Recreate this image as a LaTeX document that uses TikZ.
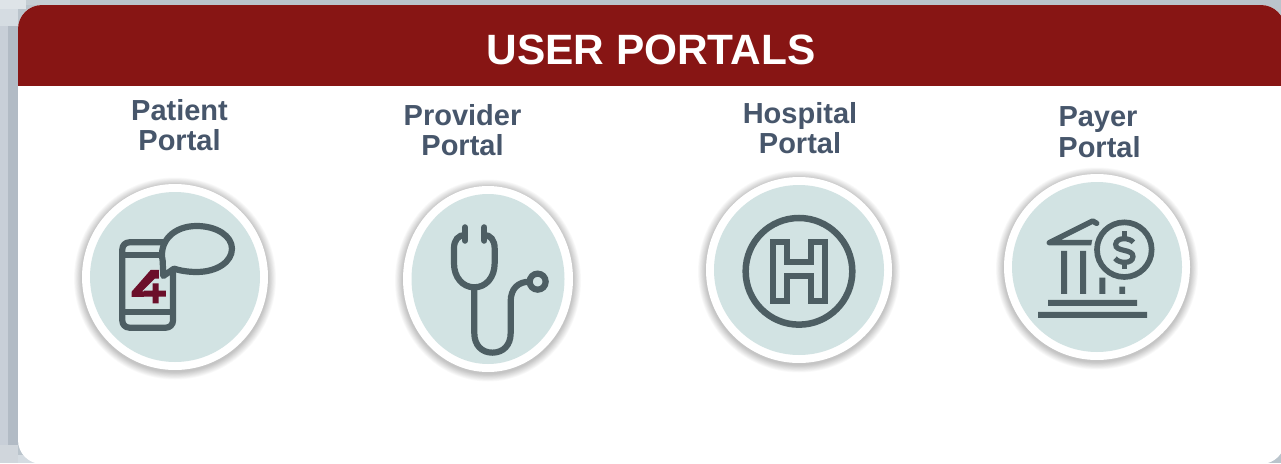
\documentclass[tikz,border=0pt]{standalone}
\usepackage{fontspec}
\setmainfont{Liberation Sans}
\definecolor{hdr}{RGB}{135,21,20}
\definecolor{ink}{RGB}{77,94,99}
\definecolor{disc}{RGB}{210,227,227}
\definecolor{lbl}{RGB}{71,86,107}
\definecolor{mar}{RGB}{107,15,42}
\definecolor{gA}{RGB}{200,207,216}
\definecolor{gB}{RGB}{178,187,197}
\definecolor{gC}{RGB}{186,196,204}
\definecolor{gD}{RGB}{222,228,232}
\definecolor{gE}{RGB}{208,214,220}
\tikzset{
  portal/.style={font=\bfseries\fontsize{29}{30.5}\selectfont,text=lbl,align=center,inner sep=0pt},
  title/.style={font=\bfseries\fontsize{42.4}{43}\selectfont,text=white,inner sep=0pt},
  icon/.style={draw=ink,line width=6.2pt},
  panelbox/.style={rounded corners=24pt},
}
% #1 centre x, #2 centre y, #3 outer rx, #4 outer ry, #5 inner rx, #6 inner ry
\newcommand{\badge}[6]{%
  \foreach \k in {10,9,...,1}{\fill[black,opacity=.022] (#1,#2+1.5) ellipse [x radius=#3+\k*0.8,y radius=#4+\k*0.8];}%
  \fill[white] (#1,#2) ellipse [x radius=#3,y radius=#4];
  \fill[disc] (#1,#2) ellipse [x radius=#5,y radius=#6];
}
\begin{document}
\begin{tikzpicture}[x=1pt,y=-1pt]
\useasboundingbox (0,0) rectangle (1281,463);
% backdrop
\fill[gC] (0,0) rectangle (1281,463);
\fill[gA] (0,0) rectangle (8,463);
\fill[gB] (8,9) rectangle (18,463);
\fill[gC!70!gD] (0,0) rectangle (70,5);
\fill[gD] (0,0) rectangle (26,9);
\fill[gD!60!gA] (0,9) rectangle (18,26);
\fill[gE] (0,445) rectangle (18,463);
\fill[gD!60!gA] (18,455) rectangle (36,463);
% panel
\fill[white,panelbox] (18,5) rectangle (1285,464);
\begin{scope}
  \clip (18,5) rectangle (1285,85.6);
  \fill[hdr,panelbox] (18,5) rectangle (1285,464);
\end{scope}
\node[title] (head) at (651,50) {USER PORTALS};
\node[portal] (patient) at (179.5,125) {Patient\\Portal};
\node[portal] (provider) at (462.5,130) {Provider\\Portal};
\node[portal] (hospital) at (800,128) {Hospital\\Portal};
\node[portal] (payer) at (1098,132) {Payer\\\hspace{3pt}Portal};
% discs
\badge{175}{277}{93}{93}{85}{85}
\badge{488}{279}{85}{93}{76.5}{85}
\badge{799}{270}{93}{93}{85}{85}
\badge{1097}{267}{93}{93}{85}{85}
% phone icon
\begin{scope}[shift={(60,170)},x=0.3333pt,y=-0.3333pt]
  \draw[icon,rounded corners=7pt] (187,217) rectangle (339,473);
  \draw[icon] (187,255) -- (300,255) (187,426) -- (339,426);
  \path[fill=disc,draw=ink,line width=6.2pt,line join=round] (308,272)
     .. controls (296,215) and (340,168) .. (410,168)
     .. controls (470,168) and (516,198) .. (516,236)
     .. controls (516,276) and (470,306) .. (410,306)
     .. controls (385,306) and (360,302) .. (342,296)
     -- (310,318) -- cycle;
  \fill[mar] (215,365) -- (272,300) -- (297,300) -- (297,326) -- (284,326) -- (246,364) -- (252,364) -- (252,381) -- (215,381) -- cycle;
  \fill[mar] (252,362) rectangle (318,380) (278,340) rectangle (296,400);
\end{scope}
% stethoscope icon
\begin{scope}[shift={(390,170)},x=0.3333pt,y=-0.3333pt]
  \draw[icon,line cap=round] (225,172) -- (225,212) (283,172) -- (283,212);
  \draw[icon] (225,195) .. controls (205,195) and (192,210) .. (192,235) -- (192,280)
     .. controls (192,322) and (218,352) .. (253,352)
     .. controls (288,352) and (314,322) .. (314,280) -- (314,235)
     .. controls (314,210) and (301,195) .. (283,195);
  \draw[icon] (253,352) -- (253,490) .. controls (253,525) and (275,548) .. (307,548)
     .. controls (340,548) and (362,525) .. (362,490) -- (362,395)
     .. controls (362,355) and (385,335) .. (420,335);
  \draw[icon] (443,335) circle [radius=24];
\end{scope}
% hospital icon
\begin{scope}[shift={(695,170)},x=0.3333pt,y=-0.3333pt]
  \draw[icon,line width=6.5pt] (312,304) circle [radius=160];
  \draw[icon,miter limit=10] (235,217) -- (276,217) -- (276,277) -- (349,277) -- (349,217) -- (390,217) -- (390,393) -- (349,393) -- (349,319) -- (276,319) -- (276,393) -- (235,393) -- cycle;
\end{scope}
% bank icon
\begin{scope}[shift={(995,165)},x=0.3333pt,y=-0.3333pt]
  \draw[icon,line width=5.5pt,line join=round,line cap=round] (305,175) -- (293,168) -- (163,233) -- (295,233);
  \fill[ink] (198,258) rectangle (216,387) (255,258) rectangle (273,387)
             (313,338) rectangle (331,387) (373,365) rectangle (390,387)
             (159,405) rectangle (426,423) (129,441) rectangle (456,459);
  \fill[disc] (388,254) circle [radius=100];
  \draw[icon,line width=5.7pt] (388,254) circle [radius=82];
  \draw[icon,line width=5.2pt] (415,232)
     .. controls (405,218) and (365,215) .. (362,238)
     .. controls (360,262) and (415,250) .. (414,275)
     .. controls (412,298) and (372,296) .. (360,280);
  \draw[icon,line width=5.2pt] (388,199) -- (388,222) (388,288) -- (388,311);
\end{scope}
\end{tikzpicture}
\end{document}
